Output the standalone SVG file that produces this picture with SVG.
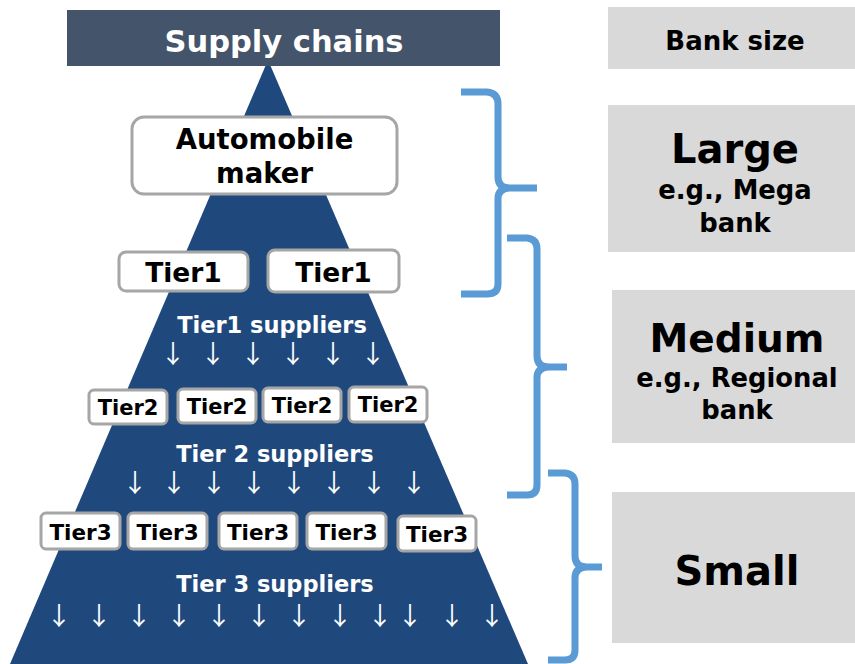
<svg xmlns="http://www.w3.org/2000/svg" width="855" height="664" viewBox="0 0 855 664">
<style>
text{font-family:"DejaVu Sans","Verdana",sans-serif;font-weight:bold;text-anchor:middle}
.box{fill:#ffffff;stroke:#a6a6a6;stroke-width:3}
.dark{fill:#000000}
.wh{fill:#ffffff}
.side{fill:#d9d9d9}
.br{fill:none;stroke:#5b9bd5;stroke-width:7;stroke-linejoin:round}
.arr{font-family:"Noto Sans CJK JP",sans-serif;font-weight:normal;fill:#ffffff;font-size:25px}
</style>
<rect width="855" height="664" fill="#ffffff"/>
<g id="pyramid">
<polygon points="268,60 528,664 10,664" fill="#1f497d"/>
</g>
<g id="title">
<rect x="67" y="10" width="433" height="56" fill="#44546a"/>
<text x="284" y="52" class="wh" font-size="30.5">Supply chains</text>
</g>
<g id="automobile-maker">
<rect class="box" x="132" y="117" width="265" height="77" rx="12"/>
<text x="264.5" y="149" class="dark" font-size="27.5">Automobile</text>
<text x="264.5" y="183" class="dark" font-size="27.5">maker</text>
</g>
<g id="tier1-a">
<rect class="box" x="119" y="252" width="129" height="39" rx="7"/>
<text x="183.5" y="282" class="dark" font-size="26.5">Tier1</text>
</g>
<g id="tier1-b">
<rect class="box" x="268" y="250" width="131" height="42" rx="7"/>
<text x="333.5" y="282" class="dark" font-size="26.5">Tier1</text>
</g>
<g id="tier1-suppliers">
<text x="272" y="333" class="wh" font-size="22.5">Tier1 suppliers</text>
</g>
<g id="tier2-a"><rect class="box" x="89" y="390" width="78" height="34" rx="5"/><text x="128" y="415" class="dark" font-size="21">Tier2</text></g>
<g id="tier2-b"><rect class="box" x="178" y="389" width="78" height="34" rx="5"/><text x="217" y="414" class="dark" font-size="21">Tier2</text></g>
<g id="tier2-c"><rect class="box" x="263" y="388" width="78" height="34" rx="5"/><text x="302" y="413" class="dark" font-size="21">Tier2</text></g>
<g id="tier2-d"><rect class="box" x="349" y="387" width="78" height="35" rx="5"/><text x="388" y="412" class="dark" font-size="21">Tier2</text></g>
<g id="tier2-suppliers">
<text x="275" y="462" class="wh" font-size="22.5">Tier 2 suppliers</text>
</g>
<g id="tier3-a"><rect class="box" x="41" y="513" width="79" height="36" rx="5"/><text x="80.5" y="540" class="dark" font-size="21.5">Tier3</text></g>
<g id="tier3-b"><rect class="box" x="128" y="513" width="79" height="36" rx="5"/><text x="167.5" y="540" class="dark" font-size="21.5">Tier3</text></g>
<g id="tier3-c"><rect class="box" x="219" y="513" width="78" height="36" rx="5"/><text x="258" y="540" class="dark" font-size="21.5">Tier3</text></g>
<g id="tier3-d"><rect class="box" x="307" y="513" width="79" height="36" rx="5"/><text x="346.5" y="540" class="dark" font-size="21.5">Tier3</text></g>
<g id="tier3-e"><rect class="box" x="398" y="516" width="78" height="35" rx="5"/><text x="437" y="542" class="dark" font-size="21.5">Tier3</text></g>
<g id="tier3-suppliers">
<text x="275" y="592" class="wh" font-size="22.5">Tier 3 suppliers</text>
</g>
<g id="flow-arrows">
<text class="arr" x="173" y="363">↓</text><text class="arr" x="213" y="363">↓</text><text class="arr" x="253" y="363">↓</text><text class="arr" x="293" y="363">↓</text><text class="arr" x="333" y="363">↓</text><text class="arr" x="373" y="363">↓</text>
<text class="arr" x="135" y="492">↓</text><text class="arr" x="174" y="492">↓</text><text class="arr" x="214" y="492">↓</text><text class="arr" x="254" y="492">↓</text><text class="arr" x="294" y="492">↓</text><text class="arr" x="334" y="492">↓</text><text class="arr" x="374" y="492">↓</text><text class="arr" x="414" y="492">↓</text>
<text class="arr" x="59" y="625">↓</text><text class="arr" x="99" y="625">↓</text><text class="arr" x="139" y="625">↓</text><text class="arr" x="179" y="625">↓</text><text class="arr" x="219" y="625">↓</text><text class="arr" x="259" y="625">↓</text><text class="arr" x="299" y="625">↓</text><text class="arr" x="340" y="625">↓</text><text class="arr" x="380" y="625">↓</text><text class="arr" x="410" y="625">↓</text><text class="arr" x="452" y="625">↓</text><text class="arr" x="492" y="625">↓</text>
</g>
<g id="connectors">
<path class="br" d="M461,92 H487 Q498,93 498,104 V177 Q498,188 510,188 H537 M510,188 Q498,188 498,199 V284 Q498,294 487,294 H461"/>
<path class="br" d="M507,238 H527 Q537,239 537,249 V356 Q537,367 549,367 H567 M549,367 Q537,367 537,378 V485 Q537,495 527,495 H507"/>
<path class="br" d="M548,473 H565 Q575,474 575,484 V556 Q575,567 587,567 H602 M587,567 Q575,567 575,578 V650 Q575,660 565,660 H548"/>
</g>
<g id="bank-size">
<rect class="side" x="608" y="7" width="247" height="62"/>
<text x="735" y="50" class="dark" font-size="26">Bank size</text>
</g>
<g id="large">
<rect class="side" x="608" y="105" width="247" height="147"/>
<text x="735" y="163" class="dark" font-size="40">Large</text>
<text x="735" y="199" class="dark" font-size="25.8">e.g., Mega</text>
<text x="735" y="232" class="dark" font-size="25.8">bank</text>
</g>
<g id="medium">
<rect class="side" x="612" y="290" width="243" height="153"/>
<text x="737" y="352" class="dark" font-size="39">Medium</text>
<text x="737" y="387" class="dark" font-size="25.8">e.g., Regional</text>
<text x="737" y="419" class="dark" font-size="25.8">bank</text>
</g>
<g id="small">
<rect class="side" x="612" y="492" width="243" height="151"/>
<text x="737" y="585" class="dark" font-size="40">Small</text>
</g>
</svg>
